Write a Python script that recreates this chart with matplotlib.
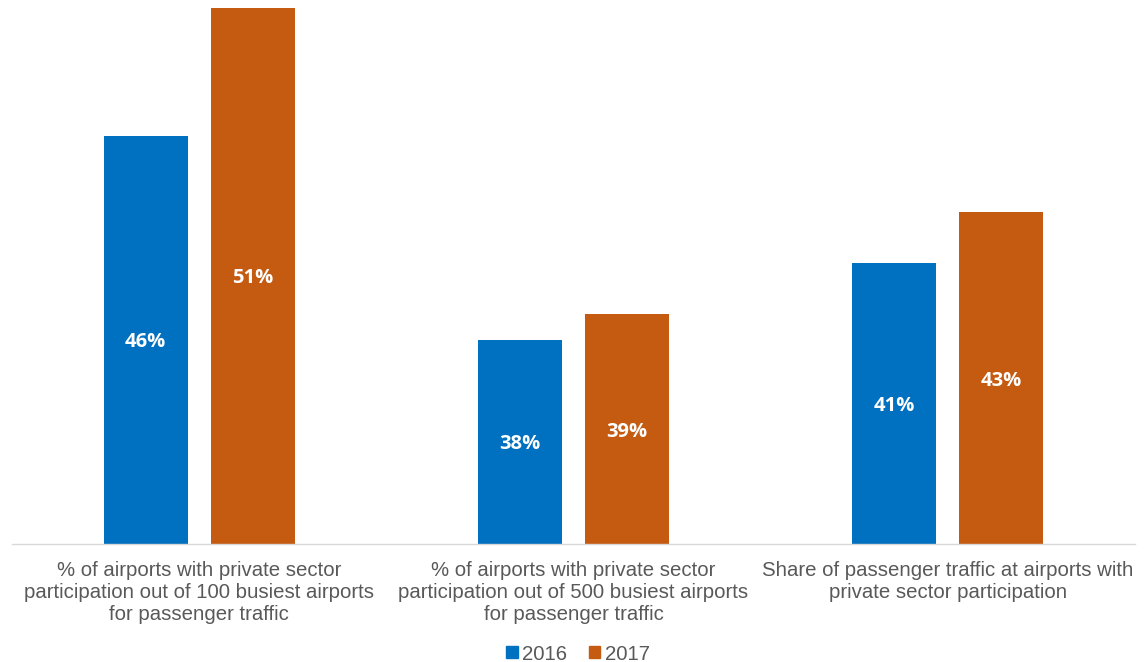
import matplotlib
matplotlib.use("Agg")
import matplotlib.pyplot as plt
import numpy as np
from matplotlib.patches import Patch

categories = [
    "% of airports with private sector\nparticipation out of 100 busiest airports\nfor passenger traffic",
    "% of airports with private sector\nparticipation out of 500 busiest airports\nfor passenger traffic",
    "Share of passenger traffic at airports with\nprivate sector participation",
]
series_names = ["2016", "2017"]
values_2016 = [46, 38, 41]
values_2017 = [51, 39, 43]
colors = ["#0070C0", "#C55A11"]

fig = plt.figure(figsize=(11.44, 6.62), dpi=100)
ax = fig.add_axes([12/1144, (662-544)/662, (1135-12)/1144, 544/662])

x = np.arange(len(categories))
w = 0.224
off = 0.143
base = 30
for vals, o, c in [(values_2016, -off, colors[0]), (values_2017, off, colors[1])]:
    ax.bar(x + o, np.array(vals) - base, width=w, bottom=base, color=c, zorder=2)
    for xi, v in zip(x, vals):
        ax.text(xi + o, (base + v) / 2, f"{v}%", ha="center", va="center_baseline",
                color="white", fontsize=14.5, fontweight="bold", family="Open Sans", zorder=3)

ax.set_xlim(-0.5, 2.5)
ax.set_ylim(base, 51.31)
for s in ["top", "right", "left"]:
    ax.spines[s].set_visible(False)
ax.spines["bottom"].set_color("#D9D9D9")
ax.spines["bottom"].set_linewidth(1)
ax.set_yticks([])
ax.set_xticks(x)
ax.set_xticklabels(categories, fontsize=14.7, color="#595959", family="Liberation Sans", linespacing=1.22)
ax.tick_params(axis="x", length=0, pad=12)

handles = [Patch(color=c, label=n) for c, n in zip(colors, series_names)]
fig.legend(handles=handles, loc="center", bbox_to_anchor=(578/1144, 1 - 654/662), ncol=2,
           frameon=False, prop={"family": "Liberation Sans", "size": 14.7},
           handlelength=0.55, handleheight=0.55, handletextpad=0.2, columnspacing=1.1,
           labelcolor="#595959")

fig.savefig("out.png", dpi=100)
